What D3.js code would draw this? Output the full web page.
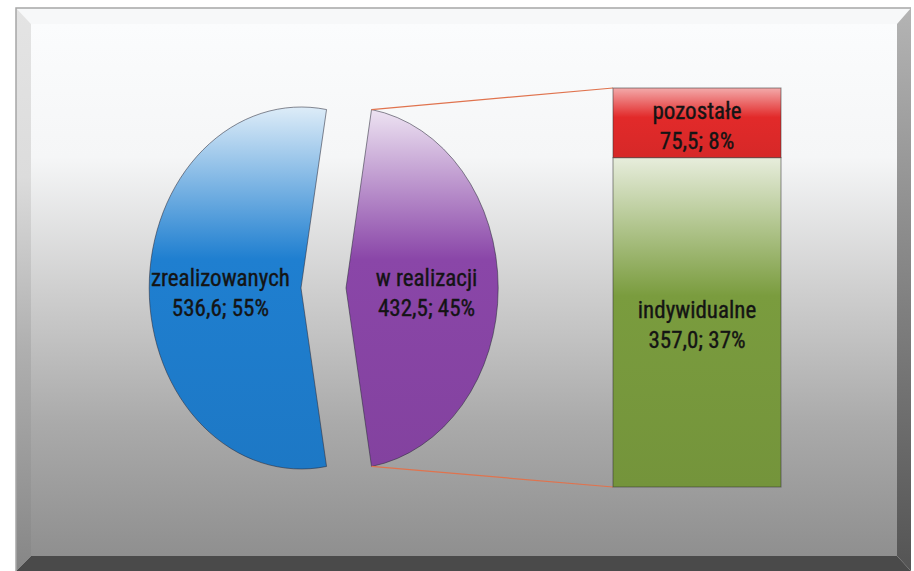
<!DOCTYPE html>
<html lang="pl">
<head>
<meta charset="utf-8">
<script src="https://cdn.jsdelivr.net/npm/d3@7"></script>
<style>
  html, body { margin: 0; padding: 0; background: #ffffff; }
  svg { display: block; }
  .lbl { font-family: 'Liberation Sans Narrow', 'Roboto Condensed', 'DejaVu Sans Condensed', sans-serif; font-size: 23px; fill: #141414; stroke: #141414; stroke-width: 0.35px; }
</style>
</head>
<body>
<svg id="chart" width="914" height="571"></svg>
<script>
// Umowy: zrealizowane vs w realizacji, z rozbiciem "w realizacji"
const pieLabels = ["zrealizowanych", "w realizacji"];
const pieValues = [536.6, 432.5];
const pieColors = ["#1f7fd0", "#8a46a8"];

const barLabels = ["indywidualne", "pozostałe"];
const barValues = [357.0, 75.5];
const barColors = ["#7a9c3e", "#e22a2a"];

const lineColor = "#e0734e";

const pl = d3.formatLocale({ decimal: ",", thousands: " ", grouping: [3], currency: ["", " zł"] });
const fmtVal = pl.format(".1f");
const total = d3.sum(pieValues);
const pct = v => Math.round(v / total * 100) + "%";

const svg = d3.select("#chart");
const defs = svg.append("defs");

// ---- frame with bevelled edges ----
const F = { x0: 16, y0: 8, x1: 911, y1: 571, ix0: 31, iy0: 24, ix1: 897, iy1: 556 };

function vGrad(id, stops, y1, y2) {
  const g = defs.append("linearGradient").attr("id", id)
    .attr("gradientUnits", "userSpaceOnUse")
    .attr("x1", 0).attr("x2", 0).attr("y1", y1).attr("y2", y2);
  stops.forEach(([o, c]) => g.append("stop").attr("offset", o).attr("stop-color", c));
}
vGrad("faceGrad", [[0, "#fbfcfd"], [0.25, "#f5f6f7"], [0.5, "#cfcfcf"], [0.75, "#aaaaaa"], [1, "#8f8f8f"]], F.iy0, F.iy1);
vGrad("leftGrad", [[0, "#e4e4e4"], [0.3, "#dcdcdc"], [0.6, "#b0b0b0"], [1, "#868686"]], F.y0, F.y1);
vGrad("rightGrad", [[0, "#b4b4b4"], [0.4, "#8c8c8c"], [1, "#545454"]], F.y0, F.y1);

const poly = pts => "M" + pts.map(p => p.join(",")).join("L") + "Z";
svg.append("path").attr("d", poly([[F.x0, F.y0], [F.x1, F.y0], [F.ix1, F.iy0], [F.ix0, F.iy0]])).attr("fill", "#f7f8f9");
svg.append("path").attr("d", poly([[F.x0, F.y0], [F.ix0, F.iy0], [F.ix0, F.iy1], [F.x0, F.y1]])).attr("fill", "url(#leftGrad)");
svg.append("path").attr("d", poly([[F.x1, F.y0], [F.ix1, F.iy0], [F.ix1, F.iy1], [F.x1, F.y1]])).attr("fill", "url(#rightGrad)");
svg.append("path").attr("d", poly([[F.x0, F.y1], [F.ix0, F.iy1], [F.ix1, F.iy1], [F.x1, F.y1]])).attr("fill", "#4a4a4a");
svg.append("rect").attr("x", F.ix0).attr("y", F.iy0).attr("width", F.ix1 - F.ix0).attr("height", F.iy1 - F.iy0).attr("fill", "url(#faceGrad)");
svg.append("path").attr("d", `M${F.x0},${F.y1}V${F.y0}H${F.x1}`).attr("fill", "none").attr("stroke", "#a6a6a6").attr("stroke-width", 1.5);

// shaded fill for a mark: light top fading into the base colour
function shade(id, base, light) {
  const c = d3.color(base);
  const g = defs.append("linearGradient").attr("id", id).attr("x1", 0).attr("x2", 0).attr("y1", 0).attr("y2", 1);
  g.append("stop").attr("offset", 0).attr("stop-color", d3.interpolateRgb(base, "#ffffff")(light));
  g.append("stop").attr("offset", 0.42).attr("stop-color", c.formatHex());
  g.append("stop").attr("offset", 1).attr("stop-color", c.darker(0.15).formatHex());
  return `url(#${id})`;
}

// ---- pie (drawn as an ellipse, slices pulled apart) ----
const P = { cx: 323.5, cy: 288, rx: 152, ry: 181, explode: 22.5 / 152, labelR: 0.53 };
const f0 = pieValues[0] / total;
const a0 = 1.5 * Math.PI - Math.PI * f0; // second slice faces right
const pie = d3.pie().sort(null).startAngle(a0).endAngle(a0 + 2 * Math.PI);
const arc = d3.arc().innerRadius(0).outerRadius(1);
const labelArc = d3.arc().innerRadius(P.labelR).outerRadius(P.labelR);
const arcs = pie(pieValues);

const pieG = svg.append("g").attr("transform", `translate(${P.cx},${P.cy}) scale(${P.rx},${P.ry})`);
arcs.forEach((d, i) => {
  const mid = (d.startAngle + d.endAngle) / 2;
  const ox = P.explode * Math.sin(mid), oy = -P.explode * Math.cos(mid);
  pieG.append("path")
    .attr("transform", `translate(${ox},${oy})`)
    .attr("d", arc(d))
    .attr("fill", shade("pieGrad" + i, pieColors[i], 0.85))
    .attr("stroke", "#2c2c3a").attr("stroke-opacity", 0.55).attr("stroke-width", 1)
    .attr("vector-effect", "non-scaling-stroke");
  const [lx, ly] = labelArc.centroid(d);
  const tx = P.cx + (lx + ox) * P.rx, ty = P.cy + (ly + oy) * P.ry;
  const t = svg.append("text").attr("class", "lbl").attr("text-anchor", "middle");
  t.append("tspan").attr("x", tx).attr("y", ty - 2).text(pieLabels[i]);
  t.append("tspan").attr("x", tx).attr("y", ty + 28).text(fmtVal(pieValues[i]) + "; " + pct(pieValues[i]));
});

// ---- stacked column for "w realizacji" ----
const B = { x: 613, w: 168, top: 88, bottom: 487 };
const y = d3.scaleLinear().domain([0, d3.sum(barValues)]).range([B.bottom, B.top]);
let acc = 0;
const segs = barValues.map((v, i) => { const s = { i, v, y0: acc, y1: acc + v }; acc += v; return s; });

// connector lines from the pulled-out slice to the column
const w = arcs[1];
const edgePt = ang => {
  const mid = (w.startAngle + w.endAngle) / 2;
  return [P.cx + (Math.sin(ang) + P.explode * Math.sin(mid)) * P.rx,
          P.cy + (-Math.cos(ang) - P.explode * Math.cos(mid)) * P.ry];
};
const pTop = edgePt(w.startAngle), pBot = edgePt(w.endAngle);
svg.append("line").attr("x1", pTop[0]).attr("y1", pTop[1]).attr("x2", B.x).attr("y2", y(acc))
  .attr("stroke", lineColor).attr("stroke-width", 1.2);
svg.append("line").attr("x1", pBot[0]).attr("y1", pBot[1]).attr("x2", B.x).attr("y2", y(0))
  .attr("stroke", lineColor).attr("stroke-width", 1.2);

segs.forEach(s => {
  svg.append("rect")
    .attr("x", B.x).attr("width", B.w)
    .attr("y", y(s.y1)).attr("height", y(s.y0) - y(s.y1))
    .attr("fill", shade("barGrad" + s.i, barColors[s.i], s.i === 0 ? 0.82 : 0.6))
    .attr("stroke", "#333").attr("stroke-opacity", 0.55).attr("stroke-width", 1);
  const cyS = (y(s.y0) + y(s.y1)) / 2;
  const t = svg.append("text").attr("class", "lbl").attr("text-anchor", "middle");
  t.append("tspan").attr("x", B.x + B.w / 2).attr("y", cyS - 4).text(barLabels[s.i]);
  t.append("tspan").attr("x", B.x + B.w / 2).attr("y", cyS + 26).text(fmtVal(s.v) + "; " + pct(s.v));
});
</script>
</body>
</html>
